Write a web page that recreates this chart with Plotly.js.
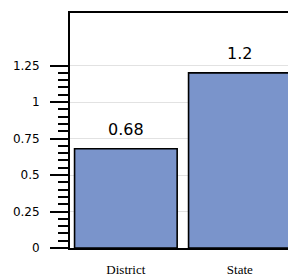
<!DOCTYPE html>
<html><head><meta charset="utf-8">
<script src="https://cdn.plot.ly/plotly-3.0.1.min.js"></script>
<style>html,body{margin:0;padding:0;overflow:hidden;background:#fff;width:288px;height:279px}#chart{width:320px;height:279px}</style>
</head><body><div id="chart"></div>
<script>
const categories = ['District', 'State'];
const values = [0.68, 1.2];
const valueLabels = ['0.68', '1.2'];
const yTickVals = [0, 0.25, 0.5, 0.75, 1, 1.25];
const yTickText = ['0', '0.25', '0.5', '0.75', '1', '1.25'];
const yMinorTickVals = [0.05, 0.1, 0.15, 0.2, 0.3, 0.35, 0.4, 0.45, 0.55, 0.6, 0.65, 0.7,
  0.8, 0.85, 0.9, 0.95, 1.05, 1.1, 1.15, 1.2];

const trace = {
  type: 'bar',
  x: categories,
  y: values,
  marker: {color: '#7a94cb', line: {color: '#000000', width: 1.6}},
  hoverinfo: 'none'
};

const annotations = categories.map((c, i) => ({
  x: c, y: values[i], text: valueLabels[i], showarrow: false,
  xref: 'x', yref: 'y', yanchor: 'bottom', yshift: 8,
  font: {family: 'DejaVu Sans', size: 16, color: '#000'}
}));

const layout = {
  width: 320, height: 279,
  margin: {l: 70, r: 22, t: 13, b: 31},
  paper_bgcolor: '#fff', plot_bgcolor: '#fff',
  bargap: 0.1,
  showlegend: false,
  xaxis: {
    type: 'category', range: [-0.49, 1.51],
    showline: true, linecolor: '#000', linewidth: 2, mirror: true,
    ticks: '', ticklabelstandoff: 8,
    tickfont: {family: 'Liberation Serif', size: 13, color: '#000'},
    showgrid: false, zeroline: false, fixedrange: true
  },
  yaxis: {
    range: [0, 1.61],
    tickvals: yTickVals, ticktext: yTickText,
    ticks: 'outside', ticklen: 18, tickwidth: 2, tickcolor: '#000',
    minor: {tickmode: 'array', tickvals: yMinorTickVals, ticks: 'outside', ticklen: 10, tickwidth: 2, tickcolor: '#000', showgrid: false},
    ticklabelstandoff: 8,
    tickfont: {family: 'DejaVu Sans', size: 12, color: '#000'},
    showline: true, linecolor: '#000', linewidth: 2,
    showgrid: true, gridcolor: '#e2e2e2', gridwidth: 1,
    zeroline: false, fixedrange: true
  },
  annotations: annotations
};

Plotly.newPlot('chart', [trace], layout, {displayModeBar: false, staticPlot: true});
</script></body></html>
